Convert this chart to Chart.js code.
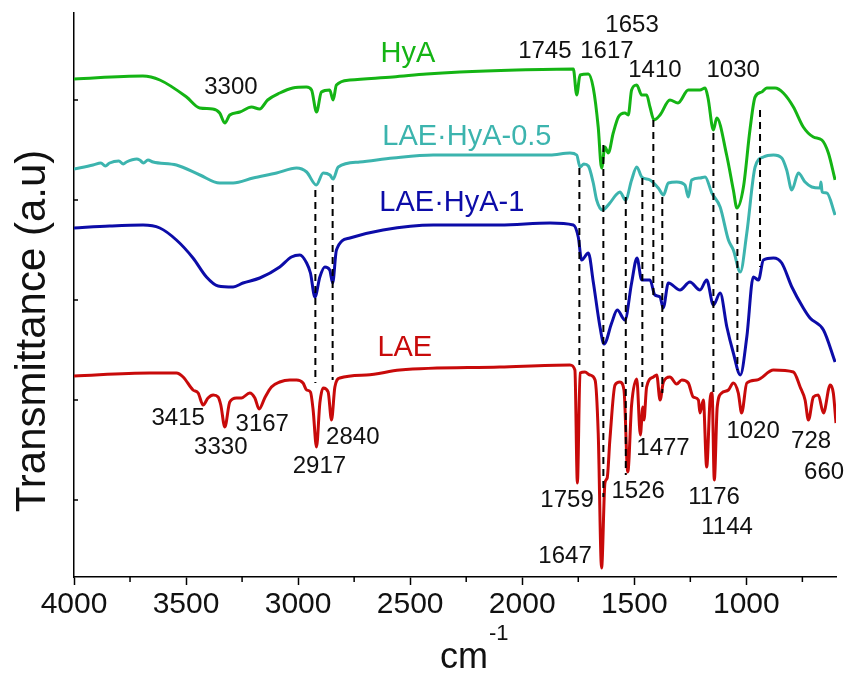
<!DOCTYPE html>
<html>
<head>
<meta charset="utf-8">
<script src="https://cdn.jsdelivr.net/npm/chart.js@4.4.1/dist/chart.umd.min.js"></script>
<style>
  body { margin: 0; background: #fff; }
  canvas { display: block; }
</style>
</head>
<body>
<canvas id="chart" width="850" height="677"></canvas>
<script>
// wavenumber (cm-1) and transmittance (a.u., offset traces)
const hyaWn = [4000,3693,3617,3498,3439,3381,3350,3327,3305,3260,3208,3172,3136,3082,3024,2963,2940,2918,2896,2859,2844,2829,2769,2577,2427,2278,2025,1772,1757,1742,1705,1683,1661,1646,1631,1616,1594,1571,1542,1527,1512,1489,1467,1445,1430,1412,1385,1341,1305,1259,1207,1184,1171,1147,1132,1088,1058,1042,1013,984,961,931,909,872,835,790,746,701,663,634,604];
const hyaT = [4.21,4.24,4.20,4.03,3.92,3.91,3.87,3.77,3.85,3.88,3.93,3.91,4.00,4.07,4.12,4.13,4.10,3.88,4.08,4.10,4.00,4.15,4.20,4.23,4.26,4.28,4.30,4.31,4.05,4.25,4.26,4.12,3.73,3.32,3.53,3.47,3.67,3.83,3.87,3.85,4.10,4.15,4.05,4.05,3.93,3.80,3.85,4.00,3.97,4.10,4.10,4.12,4.02,3.70,3.82,3.45,3.10,2.92,3.13,3.70,4.03,4.08,4.12,4.12,4.07,3.93,3.73,3.63,3.60,3.47,3.20];

const mixHalfWn = [4000,3915,3880,3860,3841,3800,3780,3766,3720,3707,3690,3670,3647,3543,3438,3350,3290,3201,3096,3007,2962,2919,2888,2858,2844,2821,2725,2576,2397,2278,1876,1787,1757,1742,1725,1705,1683,1668,1642,1609,1582,1564,1539,1512,1489,1467,1430,1393,1370,1348,1311,1274,1259,1244,1207,1184,1154,1117,1080,1058,1027,998,961,924,879,842,820,797,768,738,708,671,667,662,641,604];
const mixHalfT = [3.31,3.35,3.37,3.34,3.37,3.39,3.36,3.38,3.41,3.40,3.37,3.40,3.38,3.35,3.25,3.17,3.17,3.22,3.27,3.32,3.28,3.15,3.27,3.25,3.21,3.33,3.38,3.42,3.45,3.45,3.45,3.47,3.45,3.33,3.36,3.34,3.17,3.00,2.90,2.97,3.05,3.08,3.00,3.20,3.33,3.23,3.20,3.12,3.05,3.17,3.18,3.15,3.03,3.20,3.22,3.23,3.07,2.93,2.60,2.50,2.28,2.67,3.33,3.43,3.45,3.42,3.30,3.10,3.27,3.18,3.13,3.12,3.18,3.08,3.07,2.85];

const mixOneWn = [4000,3841,3692,3617,3543,3469,3409,3357,3290,3246,3171,3082,3030,2992,2962,2945,2925,2903,2881,2859,2846,2829,2769,2621,2397,2100,1876,1772,1750,1735,1705,1683,1653,1635,1601,1576,1542,1512,1488,1467,1430,1408,1385,1371,1348,1296,1252,1207,1177,1147,1117,1087,1058,1027,998,969,946,924,879,842,797,746,716,656,604];
const mixOneT = [2.72,2.74,2.75,2.72,2.60,2.42,2.23,2.14,2.13,2.17,2.22,2.33,2.43,2.45,2.37,2.27,2.03,2.23,2.33,2.30,2.17,2.50,2.62,2.70,2.75,2.75,2.77,2.75,2.63,2.40,2.47,2.18,1.73,1.56,1.77,1.90,1.80,2.17,2.42,2.20,2.20,2.05,2.03,1.92,2.17,2.10,2.18,2.10,2.20,1.95,2.07,1.73,1.47,1.25,1.63,2.23,2.20,2.40,2.42,2.37,2.13,1.92,1.82,1.70,1.38];

const laeWn = [4000,3662,3543,3513,3469,3446,3424,3402,3379,3357,3345,3327,3305,3275,3253,3216,3193,3174,3149,3119,3082,3037,3007,2978,2962,2945,2933,2918,2903,2888,2866,2851,2836,2814,2695,2546,2100,1787,1765,1754,1742,1720,1698,1675,1661,1646,1631,1621,1609,1586,1564,1546,1529,1512,1489,1473,1462,1457,1445,1415,1400,1385,1370,1341,1311,1288,1259,1237,1214,1207,1192,1177,1162,1153,1143,1130,1110,1080,1058,1036,1021,998,953,879,790,760,738,723,701,679,656,626,612,600];
const laeT = [1.24,1.27,1.27,1.23,1.10,1.07,0.95,1.02,1.05,1.03,0.95,0.73,0.98,1.02,1.02,1.07,1.02,0.91,1.02,1.13,1.18,1.20,1.20,1.17,1.10,1.08,0.90,0.53,0.97,1.12,1.08,0.80,1.13,1.22,1.25,1.30,1.33,1.35,1.30,0.17,1.27,1.28,1.25,1.20,0.67,-0.68,0.17,0.22,0.60,1.15,1.18,1.10,0.28,0.95,1.21,0.65,0.93,0.80,1.13,1.23,1.25,1.00,1.18,1.23,1.16,1.20,1.17,1.03,1.00,0.87,1.00,0.33,1.00,1.07,0.20,0.93,1.07,1.10,1.17,1.07,0.87,1.17,1.20,1.30,1.28,1.13,1.00,0.80,1.03,1.05,0.87,1.15,1.07,0.77];

// dashed guide lines: wavenumber, top and bottom transmittance
const guideWn = [2923,2846,1745,1638,1538,1464,1415,1375,1147,1040,939];
const guideTop = [3.10,3.15,3.32,3.55,3.03,3.22,3.80,3.03,3.67,2.87,3.90];
const guideBottom = [1.17,1.20,1.35,0.03,0.25,1.13,2.00,1.07,1.03,1.30,2.33];

// peak labels
const peakText = ['3300','1745','1617','1653','1410','1030','3415','3330','3167','2917','2840','1759','1647','1526','1477','1176','1144','1020','728','660'];
const peakWn = [3300,1899,1622,1510,1408,1059,3535,3345,3160,2905,2756,1800,1809,1483,1372,1144,1086,970,711,653];
const peakT = [4.13,4.49,4.49,4.75,4.30,4.30,0.82,0.53,0.76,0.34,0.63,0.00,-0.56,0.09,0.52,0.03,-0.27,0.69,0.59,0.28];

const seriesNames = ['HyA','LAE·HyA-0.5','LAE·HyA-1','LAE'];
const seriesColors = ['#14b414','#3cb4ae','#0c0ca8','#c80a0a'];
const nameWn = [2510,2247,2314,2524];
const nameT = [4.46,3.63,2.97,1.52];

const xTicks = [4000,3500,3000,2500,2000,1500,1000];
const xMinor = [3750,3250,2750,2250,1750,1250,750];
const yTicks = [0,1,2,3,4];

function toPoints(wn, t) {
    return wn.map((w, i) => ({ x: w, y: t[i] }));
}

const FONT = '"Liberation Sans", Arial, sans-serif';

const spectra = [
    toPoints(hyaWn, hyaT),
    toPoints(mixHalfWn, mixHalfT),
    toPoints(mixOneWn, mixOneT),
    toPoints(laeWn, laeT)
];

const datasets = [];
guideWn.forEach((w, i) => {
    datasets.push({
        data: [{ x: w, y: guideTop[i] }, { x: w, y: guideBottom[i] }],
        borderColor: '#000',
        borderWidth: 2,
        borderDash: [7, 5],
        tension: 0,
        cubicInterpolationMode: 'default'
    });
});
spectra.forEach((pts, i) => {
    datasets.push({
        data: pts,
        borderColor: seriesColors[i],
        borderWidth: 3,
        cubicInterpolationMode: 'monotone'
    });
});

const overlay = {
    id: 'overlay',
    afterDraw(chart) {
        const ctx = chart.ctx;
        const a = chart.chartArea;
        const x = chart.scales.x;
        const y = chart.scales.y;
        ctx.save();
        ctx.strokeStyle = '#000';
        ctx.lineWidth = 1.5;
        ctx.beginPath();
        xMinor.forEach(w => {
            const px = x.getPixelForValue(w);
            ctx.moveTo(px, a.bottom);
            ctx.lineTo(px, a.bottom + 5);
        });
        yTicks.forEach(v => {
            const py = y.getPixelForValue(v);
            ctx.moveTo(a.left, py);
            ctx.lineTo(a.left + 4, py);
        });
        ctx.stroke();

        ctx.textAlign = 'center';
        ctx.textBaseline = 'middle';
        ctx.fillStyle = '#111';
        ctx.font = '24px ' + FONT;
        peakText.forEach((t, i) => {
            ctx.fillText(t, x.getPixelForValue(peakWn[i]), y.getPixelForValue(peakT[i]));
        });

        ctx.font = '29px ' + FONT;
        seriesNames.forEach((n, i) => {
            ctx.fillStyle = seriesColors[i];
            ctx.fillText(n, x.getPixelForValue(nameWn[i]), y.getPixelForValue(nameT[i]));
        });

        // axis titles
        ctx.fillStyle = '#111';
        ctx.textAlign = 'right';
        ctx.textBaseline = 'alphabetic';
        ctx.font = '36px ' + FONT;
        ctx.fillText('cm', 488, 668);
        ctx.textAlign = 'left';
        ctx.font = '22px ' + FONT;
        ctx.fillText('-1', 489, 640);

        ctx.translate(33, 331);
        ctx.rotate(-Math.PI / 2);
        ctx.textAlign = 'center';
        ctx.textBaseline = 'middle';
        ctx.font = '42px ' + FONT;
        ctx.fillText('Transmittance (a.u)', 0, 0);
        ctx.restore();
    }
};

new Chart(document.getElementById('chart'), {
    type: 'line',
    data: { datasets },
    options: {
        responsive: false,
        devicePixelRatio: 1,
        animation: false,
        events: [],
        layout: { padding: { top: 13, right: 14, left: 0, bottom: 0 } },
        elements: { point: { radius: 0 } },
        plugins: { legend: { display: false }, tooltip: { enabled: false } },
        scales: {
            x: {
                type: 'linear',
                reverse: true,
                min: 600,
                max: 4000,
                afterBuildTicks: s => { s.ticks = xTicks.map(v => ({ value: v })); },
                afterFit: s => { s.height = 100; },
                ticks: {
                    color: '#111',
                    padding: 2,
                    maxRotation: 0,
                    autoSkip: false,
                    font: { family: FONT, size: 30 },
                    callback: v => String(v)
                },
                grid: { drawOnChartArea: false, tickLength: 8, tickColor: '#000', tickWidth: 1.5 },
                border: { color: '#000', width: 1.5 }
            },
            y: {
                min: -0.77,
                max: 4.87,
                afterBuildTicks: s => { s.ticks = yTicks.map(v => ({ value: v })); },
                afterFit: s => { s.width = 74; },
                ticks: { display: false },
                grid: { drawOnChartArea: false, drawTicks: false },
                border: { color: '#000', width: 1.5 }
            }
        }
    },
    plugins: [overlay]
});
</script>
</body>
</html>
